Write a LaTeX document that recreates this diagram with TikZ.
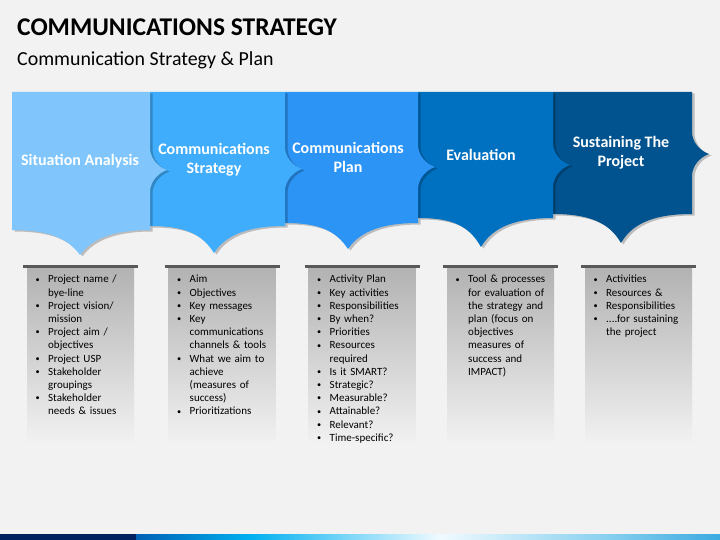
\documentclass[tikz,border=0pt]{standalone}
\usepackage{fontspec}
\setmainfont{Carlito}
\usepackage{enumitem}
\usetikzlibrary{shadows}
\definecolor{bg}{RGB}{242,242,242}
\definecolor{stepA}{RGB}{128,198,252}
\definecolor{stepB}{RGB}{64,173,252}
\definecolor{stepC}{RGB}{43,148,245}
\definecolor{stepD}{RGB}{0,112,192}
\definecolor{stepE}{RGB}{0,83,143}
\definecolor{bartop}{RGB}{89,89,89}
\definecolor{panel}{RGB}{178,178,178}
\definecolor{navy}{RGB}{0,32,96}
\setlist[itemize]{label=\raisebox{.8pt}{\scalebox{.75}{\textbullet}}, leftmargin=12pt, labelsep=8.5pt, itemsep=0pt, topsep=0pt, parsep=0pt, partopsep=0pt}

\begin{document}
\begin{tikzpicture}[x=1pt, y=-1pt,
    steptext/.style={text=white, font=\fontsize{16}{19}\selectfont\bfseries, align=center},
    panelitems/.style={anchor=north west, inner sep=0pt, text width=100pt, align=left, font=\fontsize{11}{13.2}\selectfont},
    stepshadow/.style={drop shadow={shadow xshift=2.5pt, shadow yshift=-1.5pt, opacity=.22, fill=black}}]
  \fill[bg] (0,0) rectangle (720,540);
  \useasboundingbox (0,0) rectangle (720,540);

  \node[anchor=base west, inner sep=0pt, font=\fontsize{25.5}{30}\selectfont\bfseries] (title) at (17,36) {COMMUNICATIONS STRATEGY};
  \node[anchor=base west, inner sep=0pt, font=\fontsize{19.9}{23}\selectfont] (subtitle) at (17,66) {Communication Strategy \& Plan};

  \foreach \lx/\rx/\by/\ty/\tx/\my/\col in {553/692/214/243/621/154/stepE, 418/553/218/247/481/165/stepD, 285/418/223/249/348/167/stepC, 150/285/226/253/214/169/stepB, 12/150/230/255/80/170/stepA}
    \fill[\col, stepshadow] (\lx,92) -- (\rx,92) -- (\rx,\my-22)
      .. controls (\rx,\my-12) and (\rx+8,\my-3) .. (\rx+17,\my)
      .. controls (\rx+8,\my+3) and (\rx,\my+12) .. (\rx,\my+22) -- (\rx,\by)
      .. controls (\rx-35,\by) and (\tx+12,\by+8) .. (\tx,\ty)
      .. controls (\tx-12,\by+8) and (\lx+35,\by) .. (\lx,\by) -- cycle;

  \node[steptext] (situation) at (80,161) {Situation Analysis};
  \node[steptext] (strategy) at (214,160) {Communications\\Strategy};
  \node[steptext] (plan) at (348,157) {Communications\\Plan};
  \node[steptext] (evaluation) at (481,155) {Evaluation};
  \node[steptext] (sustaining) at (621,153) {Sustaining The\\Project};

  \foreach \cx in {80.5,222,362,500.5,638.5} {
    \shade[top color=panel, bottom color=bg] (\cx-53.5,267) rectangle (\cx+53.5,445);
    \draw[bartop, line width=3pt] (\cx-57.5,266) -- (\cx+57.5,266);
  }

  \node[panelitems] (situationlist) at (36,269.5) {\begin{itemize}
    \item Project name /\newline bye-line
    \item Project vision/\newline mission
    \item Project aim /\newline objectives
    \item Project USP
    \item Stakeholder\newline groupings
    \item Stakeholder\newline needs \& issues
  \end{itemize}};
  \node[panelitems] (strategylist) at (177.5,269.5) {\begin{itemize}
    \item Aim
    \item Objectives
    \item Key messages
    \item Key\newline communications\newline channels \& tools
    \item What we aim to\newline achieve\newline (measures of\newline success)
    \item Prioritizations
  \end{itemize}};
  \node[panelitems] (planlist) at (317.5,269.5) {\begin{itemize}
    \item Activity Plan
    \item Key activities
    \item Responsibilities
    \item By when?
    \item Priorities
    \item Resources\newline required
    \item Is it SMART?
    \item Strategic?
    \item Measurable?
    \item Attainable?
    \item Relevant?
    \item Time-specific?
  \end{itemize}};
  \node[panelitems] (evaluationlist) at (456,269.5) {\begin{itemize}
    \item Tool \& processes\newline for evaluation of\newline the strategy and\newline plan (focus on\newline objectives\newline measures of\newline success and\newline IMPACT)
  \end{itemize}};
  \node[panelitems] (sustaininglist) at (594,269.5) {\begin{itemize}
    \item Activities
    \item Resources \&
    \item Responsibilities
    \item ....for sustaining\newline the project
  \end{itemize}};

  \fill[navy] (0,534) rectangle (136,540);
  \shade[left color={rgb,255:red,0;green,96;blue,180}, right color={rgb,255:red,0;green,176;blue,240}] (136,534) rectangle (250,540);
  \shade[left color={rgb,255:red,0;green,176;blue,240}, right color={rgb,255:red,240;green,250;blue,255}] (250,534) rectangle (440,540);
  \shade[left color={rgb,255:red,240;green,250;blue,255}, right color={rgb,255:red,140;green,210;blue,240}] (440,534) rectangle (600,540);
  \shade[left color={rgb,255:red,140;green,210;blue,240}, right color={rgb,255:red,60;green,170;blue,225}] (600,534) rectangle (720,540);
\end{tikzpicture}
\end{document}
